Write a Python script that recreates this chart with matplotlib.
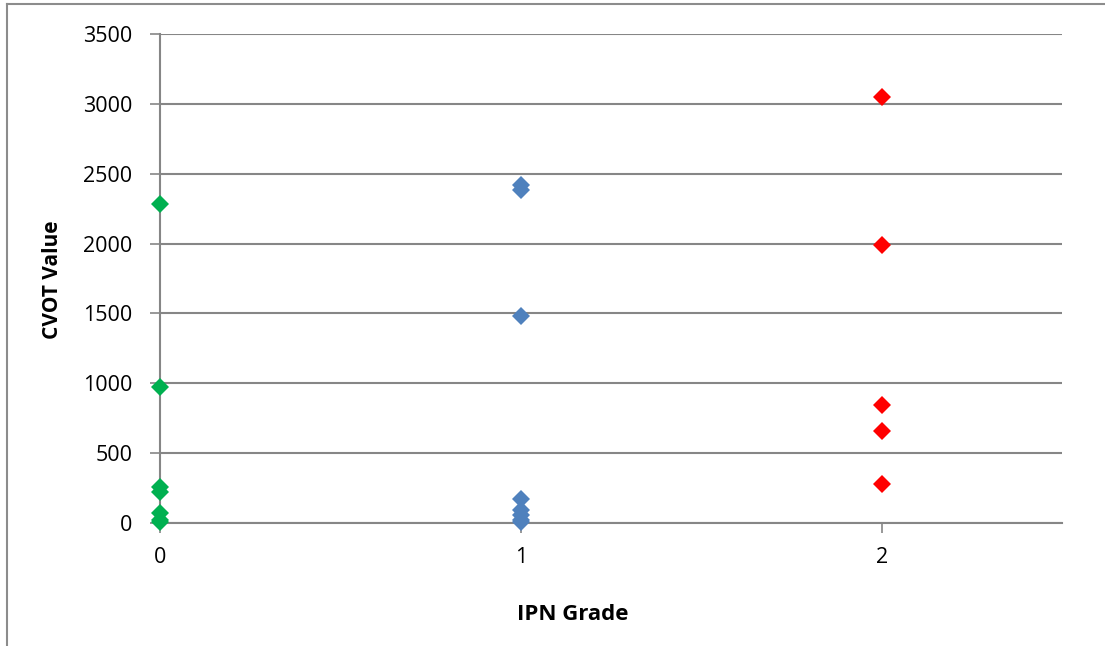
import matplotlib
matplotlib.use('Agg')
from matplotlib import pyplot as plt
from matplotlib.lines import Line2D

plt.rcParams['font.family'] = ['Open Sans', 'DejaVu Sans']

# CVOT values, grouped by IPN grade
grade0_vals = [2280, 975, 260, 225, 70, 20, 5]
grade1_vals = [2420, 2385, 1485, 175, 95, 55, 25, 5]
grade2_vals = [3050, 1990, 845, 655, 280]
y_ticks = [0, 500, 1000, 1500, 2000, 2500, 3000, 3500]
x_ticks = [0, 1, 2]

W, H = 1105, 646
fig = plt.figure(figsize=(W / 100, H / 100), dpi=100)
ax = fig.add_axes([160 / W, 1 - 523 / H, (1062 - 160) / W, (523 - 34) / H])

grid_col = '#868686'
ms = 9.5
ax.plot([0] * len(grade0_vals), grade0_vals, 'D', color='#00B050', ms=ms, mew=0, zorder=3, clip_on=False)
ax.plot([1] * len(grade1_vals), grade1_vals, 'D', color='#4F81BD', ms=ms, mew=0, zorder=3, clip_on=False)
ax.plot([2] * len(grade2_vals), grade2_vals, 'D', color='#FF0000', ms=ms, mew=0, zorder=3, clip_on=False)

ax.set_xlim(0, 2.5)
ax.set_ylim(0, 3500)
ax.set_xticks(x_ticks)
ax.set_yticks(y_ticks)
ax.tick_params(axis='both', labelsize=15.5, length=7, width=1.2, color=grid_col, direction='out')
ax.tick_params(axis='y', pad=13)
ax.tick_params(axis='x', pad=10)
ax.yaxis.grid(True, color=grid_col, linewidth=1.5)
ax.set_axisbelow(True)

for side in ['top', 'right']:
    ax.spines[side].set_visible(False)
for side in ['left', 'bottom']:
    ax.spines[side].set_color(grid_col)
    ax.spines[side].set_linewidth(1.5)

# axis titles placed where they sit in the original
fig.text(573 / W, 1 - 615 / H, 'IPN Grade', fontsize=16, fontweight='bold', ha='center', va='center')
fig.text(52 / W, 1 - 280 / H, 'CVOT Value', fontsize=15, fontweight='bold', rotation=90, ha='center', va='center')

# outer chart frame (only top and left edges visible)
fig.add_artist(Line2D([7 / W, 1], [1 - 4 / H, 1 - 4 / H], color='#8c8c8c', lw=1.5, transform=fig.transFigure))
fig.add_artist(Line2D([7 / W, 7 / W], [0, 1 - 4 / H], color='#8c8c8c', lw=1.5, transform=fig.transFigure))

fig.savefig('out.png', dpi=100)
